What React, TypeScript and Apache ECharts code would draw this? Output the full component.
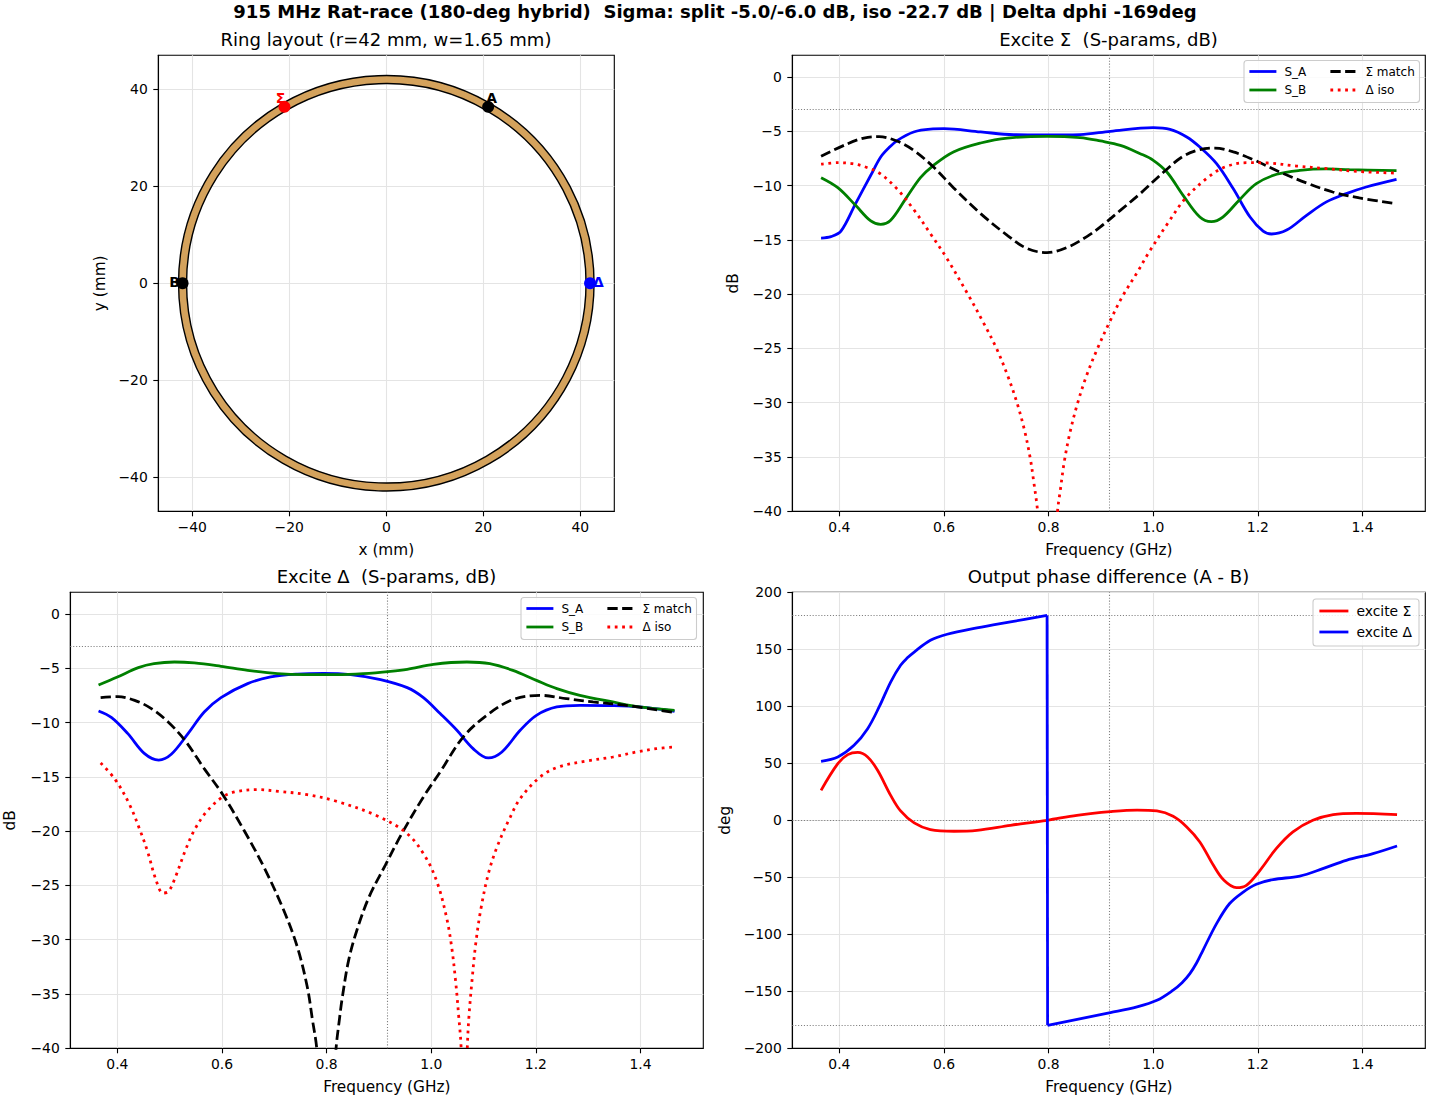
import React, { useEffect, useRef } from "react";
import * as echarts from "echarts";

type P = [number, number];

const SUPTITLE = "915 MHz Rat-race (180-deg hybrid)  Sigma: split -5.0/-6.0 dB, iso -22.7 dB | Delta dphi -169deg";

const ringGeometry = [[0, 0, 42, 1.65]];
const ports: { name: string; value: P; color: string; offset: P }[] = [
  { name: "Σ", value: [-21, 36.37], color: "#ff0000", offset: [-4, -9] },
  { name: "A", value: [21, 36.37], color: "#000000", offset: [3.5, -9] },
  { name: "B", value: [-42, 0], color: "#000000", offset: [-8, -1] },
  { name: "Δ", value: [42, 0], color: "#0000ff", offset: [8.4, -1] },
];

const freqTicks = [0.4, 0.6, 0.8, 1.0, 1.2, 1.4];
const dbTicks = [-40, -35, -30, -25, -20, -15, -10, -5, 0];
const degTicks = [-200, -150, -100, -50, 0, 50, 100, 150, 200];
const mmTicks = [-40, -20, 0, 20, 40];

const sigmaSA: P[] = [[0.365,-14.83],[0.384,-14.7],[0.403,-14.2],[0.431,-11.66],[0.46,-9.05],[0.479,-7.37],[0.495,-6.5],[0.511,-5.83],[0.542,-5.06],[0.574,-4.79],[0.6,-4.76],[0.67,-5.06],[0.733,-5.31],[0.79,-5.33],[0.86,-5.3],[0.918,-5.0],[1.0,-4.66],[1.032,-4.82],[1.064,-5.52],[1.089,-6.45],[1.121,-7.98],[1.153,-10.3],[1.185,-12.9],[1.21,-14.2],[1.226,-14.46],[1.255,-14.1],[1.293,-12.74],[1.331,-11.5],[1.369,-10.74],[1.407,-10.13],[1.465,-9.42]];
const sigmaSB: P[] = [[0.365,-9.27],[0.397,-10.19],[0.431,-11.82],[0.46,-13.26],[0.479,-13.57],[0.498,-13.2],[0.527,-11.2],[0.555,-9.27],[0.58,-8.13],[0.618,-6.9],[0.67,-6.08],[0.721,-5.62],[0.797,-5.46],[0.86,-5.58],[0.899,-5.89],[0.937,-6.29],[0.975,-7.06],[1.0,-7.67],[1.026,-8.75],[1.057,-10.9],[1.089,-12.9],[1.111,-13.32],[1.133,-12.9],[1.165,-11.3],[1.197,-9.82],[1.236,-8.96],[1.28,-8.6],[1.331,-8.47],[1.375,-8.53],[1.465,-8.62]];
const sigmaMatch: P[] = [[0.365,-7.3],[0.416,-6.14],[0.447,-5.62],[0.476,-5.49],[0.511,-5.92],[0.542,-6.75],[0.58,-8.29],[0.618,-10.19],[0.67,-12.58],[0.721,-14.58],[0.759,-15.8],[0.797,-16.17],[0.835,-15.7],[0.873,-14.7],[0.899,-13.8],[0.937,-12.28],[0.975,-10.74],[1.022,-8.66],[1.057,-7.3],[1.089,-6.69],[1.118,-6.54],[1.153,-6.9],[1.191,-7.61],[1.242,-8.75],[1.293,-9.76],[1.343,-10.59],[1.394,-11.14],[1.465,-11.66]];
const sigmaIso: P[] = [[0.365,-8.03],[0.397,-7.89],[0.425,-7.98],[0.45,-8.29],[0.476,-8.84],[0.508,-10.19],[0.542,-12.2],[0.574,-14.43],[0.605,-16.67],[0.6475,-20.17],[0.674,-22.5],[0.6997,-24.93],[0.7207,-27.38],[0.739,-29.93],[0.7537,-32.5],[0.765,-35.15],[0.771,-37.1],[0.7785,-39.8],[0.79,-46],[0.8,-54],[0.81,-46],[0.817,-40],[0.8225,-38],[0.83,-35.4],[0.841,-32.7],[0.855,-30.1],[0.872,-27.57],[0.8925,-25.1],[0.916,-22.62],[0.9405,-20.26],[0.9705,-17.9],[0.991,-16.2],[1.029,-13.38],[1.061,-11.2],[1.103,-9.3],[1.137,-8.29],[1.179,-7.89],[1.219,-7.92],[1.274,-8.2],[1.331,-8.44],[1.388,-8.69],[1.465,-8.85]];

const deltaSA: P[] = [[0.364,-8.93],[0.389,-9.54],[0.42,-11.02],[0.452,-12.86],[0.479,-13.45],[0.503,-12.92],[0.535,-11.02],[0.566,-9.03],[0.598,-7.7],[0.649,-6.41],[0.693,-5.8],[0.744,-5.53],[0.794,-5.46],[0.846,-5.58],[0.903,-6.04],[0.954,-6.78],[0.985,-7.7],[1.017,-9.17],[1.049,-10.71],[1.08,-12.4],[1.109,-13.26],[1.135,-12.71],[1.17,-10.71],[1.201,-9.33],[1.24,-8.56],[1.284,-8.41],[1.347,-8.44],[1.398,-8.56],[1.465,-8.96]];
const deltaSB: P[] = [[0.364,-6.54],[0.4,-5.8],[0.44,-4.94],[0.47,-4.57],[0.509,-4.42],[0.547,-4.51],[0.598,-4.82],[0.649,-5.19],[0.706,-5.49],[0.756,-5.58],[0.82,-5.58],[0.87,-5.49],[0.922,-5.28],[0.954,-5.09],[1.004,-4.63],[1.068,-4.42],[1.112,-4.57],[1.156,-5.19],[1.201,-6.11],[1.24,-6.87],[1.284,-7.49],[1.347,-8.1],[1.398,-8.56],[1.465,-8.87]];
const deltaMatch: P[] = [[0.368,-7.7],[0.401,-7.61],[0.433,-7.95],[0.465,-8.71],[0.497,-9.95],[0.528,-11.57],[0.566,-14.24],[0.601,-16.6],[0.642,-19.92],[0.68,-23.3],[0.718,-27.29],[0.744,-30.67],[0.763,-34.35],[0.773,-37.42],[0.781,-39.97],[0.79,-46],[0.8,-54],[0.81,-46],[0.818,-40],[0.824,-37.5],[0.83,-35.3],[0.842,-31.9],[0.858,-29.1],[0.881,-26.07],[0.912,-23.15],[0.944,-20.2],[0.985,-16.85],[1.017,-14.55],[1.061,-11.33],[1.106,-9.33],[1.156,-7.88],[1.208,-7.49],[1.258,-7.79],[1.309,-8.1],[1.373,-8.41],[1.465,-9.08]];
const deltaIso: P[] = [[0.368,-13.72],[0.396,-15.25],[0.423,-17.53],[0.444,-20.01],[0.458,-21.92],[0.474,-24.53],[0.487,-25.7],[0.498,-25.54],[0.511,-24.22],[0.53,-21.76],[0.547,-19.92],[0.57,-18.24],[0.601,-16.85],[0.627,-16.36],[0.666,-16.17],[0.708,-16.33],[0.763,-16.64],[0.817,-17.22],[0.897,-18.6],[0.954,-20.23],[0.989,-22.38],[1.012,-24.83],[1.029,-27.9],[1.039,-30.67],[1.047,-34.04],[1.052,-36.8],[1.057,-39.9],[1.0625,-50],[1.069,-39.8],[1.072,-37.1],[1.078,-33.7],[1.085,-30.36],[1.095,-27.13],[1.11,-23.76],[1.127,-21.3],[1.151,-18.7],[1.17,-17],[1.208,-15.01],[1.243,-14.09],[1.297,-13.54],[1.347,-13.17],[1.392,-12.71],[1.43,-12.4],[1.465,-12.25]];

const phaseSigma: P[] = [[0.365,26.3],[0.397,49.7],[0.416,57.6],[0.435,59.6],[0.454,55.6],[0.473,43.9],[0.498,21.9],[0.517,8.2],[0.543,-2.3],[0.574,-8.2],[0.619,-9.6],[0.663,-8.8],[0.727,-4.4],[0.797,0],[0.854,4.4],[0.918,7.6],[0.969,9],[1.007,8.2],[1.038,3.5],[1.064,-5.8],[1.089,-19],[1.115,-39.5],[1.134,-52],[1.159,-59],[1.178,-57],[1.204,-43.9],[1.235,-24.9],[1.267,-10.2],[1.305,0],[1.344,5],[1.388,6.1],[1.466,5]];
const phaseDeltaUpper: P[] = [[0.365,51.75],[0.397,55.6],[0.428,65.8],[0.454,80.4],[0.476,99.4],[0.498,121.3],[0.517,136],[0.53,142.5],[0.543,147.6],[0.574,157.9],[0.606,163.2],[0.663,168.7],[0.727,174],[0.797,179.7]];
const phaseDeltaLower: P[] = [[0.798,-179.8],[0.918,-168.7],[0.969,-163.7],[1.007,-157.9],[1.038,-149],[1.055,-142.5],[1.07,-134.5],[1.083,-125],[1.095,-114],[1.121,-90.6],[1.146,-73],[1.172,-62.9],[1.197,-56.1],[1.229,-52],[1.28,-48.9],[1.324,-42.4],[1.369,-35.1],[1.42,-29.2],[1.466,-22.5]];

const FONT = "DejaVu Sans";
const BLUE = "#0000ff", GREEN = "#008000", BLACK = "#000000", RED = "#ff0000";
const LW = 2.78;
const DASH = [10.3, 4.45];
const DOT = [2.78, 4.6];
const BOXES = [
  { left: 158.3, top: 55.3, width: 456, height: 456 },
  { left: 792.3, top: 55.3, width: 633, height: 456 },
  { left: 70.3, top: 592.3, width: 633, height: 456 },
  { left: 792.3, top: 592.3, width: 633, height: 456 },
];

const minusFmt = (d: number) => (v: number) => v.toFixed(d).replace("-", "\u2212");

function axis(idx: number, dim: "x" | "y", min: number, max: number, ticks: number[], name: string, gap: number, decimals: number) {
  return {
    type: "value", gridIndex: idx, min, max, scale: true,
    name, nameLocation: "middle", nameGap: gap,
    nameTextStyle: { fontFamily: FONT, fontSize: 15.3, color: "#000" },
    axisLine: { show: true, onZero: false, lineStyle: { color: "#000", width: 1.1 } },
    axisTick: { show: true, inside: false, length: 5, customValues: ticks, lineStyle: { color: "#000", width: 1.1 } },
    axisLabel: { show: true, customValues: ticks, formatter: minusFmt(decimals), fontFamily: FONT, fontSize: 13.9, color: "#000", margin: dim === "x" ? 9 : 10.5 },
    splitLine: { show: true, lineStyle: { color: "#e4e4e4", width: 1.1 } },
  };
}

const refLines = (items: object[]) => ({
  silent: true, symbol: ["none", "none"], z: 1, animation: false, precision: 4,
  label: { show: false }, emphasis: { disabled: true },
  lineStyle: { color: "#808080", width: 1.1, type: [1.1, 1.8], opacity: 1 },
  data: items,
});

function line(name: string, idx: number, data: P[], color: string, type: any, mark?: object, smooth: number | boolean = 0.35) {
  return {
    type: "line", name, xAxisIndex: idx, yAxisIndex: idx, data, showSymbol: false, symbol: "none", smooth, clip: true,
    lineStyle: { color, width: LW, type, cap: "butt" }, itemStyle: { color }, z: 2, animation: false,
    ...(mark ? { markLine: mark } : {}),
  };
}

function legend(names: string[], left: number, top: number, fontSize: number, itemWidth: number, gap: number) {
  return {
    show: true, orient: "vertical", left, top, padding: 0, itemGap: gap, itemWidth, itemHeight: 14, data: names,
    itemStyle: { opacity: 0, color: "transparent", borderWidth: 0 },
    lineStyle: { width: LW },
    selectedMode: false, textStyle: { fontFamily: FONT, fontSize, color: "#000", padding: [0, 0, 0, 3] }, z: 5,
  };
}

const legendBox = (x: number, y: number, width: number, height: number) => ({
  type: "rect", z: 4, shape: { x, y, width, height, r: 3 },
  style: { fill: "rgba(255,255,255,0.85)", stroke: "#cccccc", lineWidth: 1.1 },
});

const title = (text: string, cx: number, top: number, fontSize: number, fontWeight: string) => ({
  text, left: cx, top, textAlign: "center", padding: 0,
  textStyle: { fontFamily: FONT, fontSize, fontWeight, color: "#000" },
});

export default function App() {
  const ref = useRef<HTMLDivElement>(null);
  useEffect(() => {
    const chart = echarts.init(ref.current!, undefined, { renderer: "svg" });
    const sMarks = refLines([{ yAxis: -3 }, { xAxis: 0.915 }]);
    const pMarks = refLines([{ yAxis: 0 }, { yAxis: 180 }, { yAxis: -180 }, { xAxis: 0.915 }]);
    chart.setOption({
      animation: false,
      backgroundColor: "#ffffff",
      textStyle: { fontFamily: FONT },
      title: [
        title(SUPTITLE, 715, 2, 18.05, "bold"),
        title("Ring layout (r=42 mm, w=1.65 mm)", 386, 30, 18.05, "normal"),
        title("Excite Σ  (S-params, dB)", 1108.5, 30, 18.05, "normal"),
        title("Excite Δ  (S-params, dB)", 386.5, 567, 18.05, "normal"),
        title("Output phase difference (A - B)", 1108.5, 567, 18.05, "normal"),
      ],
      grid: BOXES.map((b) => ({ ...b, show: true, borderColor: "#000", borderWidth: 1.1, backgroundColor: "transparent", containLabel: false, outerBoundsMode: "none" })),
      xAxis: [
        axis(0, "x", -47, 47, mmTicks, "x (mm)", 31, 0),
        axis(1, "x", 0.31, 1.52, freqTicks, "Frequency (GHz)", 31, 1),
        axis(2, "x", 0.31, 1.52, freqTicks, "Frequency (GHz)", 31, 1),
        axis(3, "x", 0.31, 1.52, freqTicks, "Frequency (GHz)", 31, 1),
      ],
      yAxis: [
        axis(0, "y", -47, 47, mmTicks, "y (mm)", 51, 0),
        axis(1, "y", -40, 2, dbTicks, "dB", 52, 0),
        axis(2, "y", -40, 2, dbTicks, "dB", 53, 0),
        axis(3, "y", -200, 200, degTicks, "deg", 60, 0),
      ],
      legend: [
        legend(["S_A", "S_B"], 1248, 65.5, 12, 27, 6.5),
        legend(["Σ match", "Δ iso"], 1329, 65.5, 12, 27, 6.5),
        legend(["S_A", "S_B"], 525, 602.5, 12, 27, 6.5),
        legend(["Σ match", "Δ iso"], 606, 602.5, 12, 27, 6.5),
        legend(["excite Σ", "excite Δ"], 1318, 604, 13.9, 29, 7),
      ],
      graphic: [legendBox(1244, 60.5, 175.5, 42), legendBox(521, 597.5, 175.5, 42), legendBox(1313, 599, 106, 47)],
      series: [
        {
          type: "custom", xAxisIndex: 0, yAxisIndex: 0, data: ringGeometry, encode: { x: 0, y: 1 }, z: 2, silent: true,
          renderItem: (_p: any, api: any) => {
            const c = api.coord([api.value(0), api.value(1)]);
            const outer = api.size([api.value(2) + api.value(3) / 2, 0])[0];
            const inner = api.size([api.value(2) - api.value(3) / 2, 0])[0];
            return { type: "ring", shape: { cx: c[0], cy: c[1], r: outer, r0: inner }, style: { fill: "#d4a25c", stroke: "#000", lineWidth: 1.4 } };
          },
        },
        {
          type: "scatter", xAxisIndex: 0, yAxisIndex: 0, symbolSize: 12, z: 3, silent: true,
          data: ports.map((p) => ({
            name: p.name, value: p.value, itemStyle: { color: p.color, opacity: 1 },
            label: { show: true, position: "inside", formatter: p.name, offset: p.offset, color: p.color, opacity: 1, fontFamily: FONT, fontWeight: "bold", fontSize: 13.9 },
          })),
        },
        line("S_A", 1, sigmaSA, BLUE, "solid", sMarks),
        line("S_B", 1, sigmaSB, GREEN, "solid"),
        line("Σ match", 1, sigmaMatch, BLACK, DASH),
        line("Δ iso", 1, sigmaIso, RED, DOT),
        line("S_A", 2, deltaSA, BLUE, "solid", sMarks),
        line("S_B", 2, deltaSB, GREEN, "solid"),
        line("Σ match", 2, deltaMatch, BLACK, DASH),
        line("Δ iso", 2, deltaIso, RED, DOT),
        line("excite Σ", 3, phaseSigma, RED, "solid", pMarks),
        line("excite Δ", 3, phaseDeltaUpper, BLUE, "solid"),
        line("excite Δ", 3, [phaseDeltaUpper[phaseDeltaUpper.length - 1], phaseDeltaLower[0]], BLUE, "solid", undefined, false),
        line("excite Δ", 3, phaseDeltaLower, BLUE, "solid"),
      ],
    });
    return () => chart.dispose();
  }, []);
  return <div ref={ref} style={{ position: "absolute", left: 0, top: 0, width: 1430, height: 1100 }} />;
}
